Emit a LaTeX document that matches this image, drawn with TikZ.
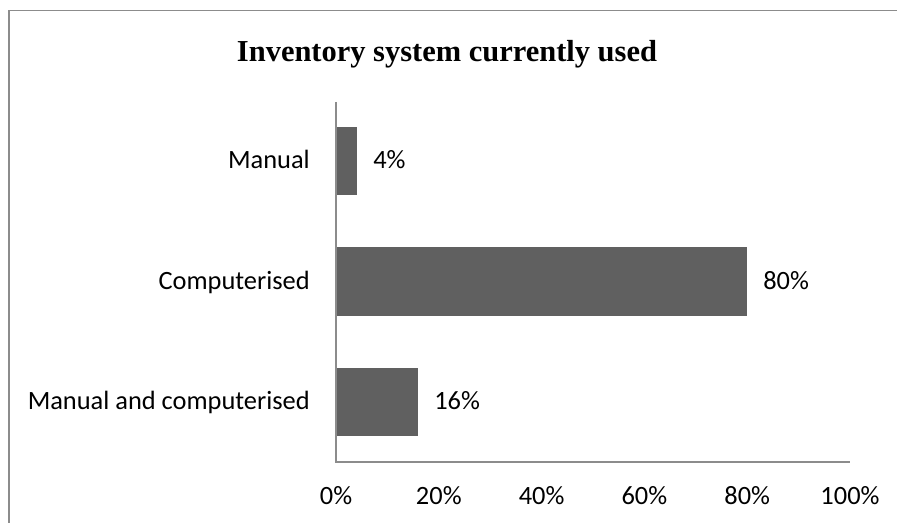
\documentclass[tikz,border=0pt]{standalone}
\usepackage{fontspec}
\setmainfont{Liberation Serif}
\newfontfamily\calfont{Carlito}
\definecolor{barc}{HTML}{606060}
\definecolor{axc}{HTML}{8C8C8C}
\begin{document}
\begin{tikzpicture}[x=0.75pt,y=-0.75pt,
  lbl/.style={font=\calfont\fontsize{19.8}{23}\selectfont, inner sep=0pt},
  bar/.style={fill=barc, draw=none}]
\useasboundingbox (0,0) rectangle (897,523);
\fill[white] (0,0) rectangle (897,523);
% frame
\draw[axc, line width=1.3pt] (9,523) -- (9,10.5) -- (897,10.5);
% title
\node[font=\bfseries\fontsize{22.85}{27}\selectfont, anchor=base, inner sep=0pt] (title) at (447,61.5) {Inventory system currently used};
% bars
\fill[bar] (336,127) rectangle (357,195);
\fill[bar] (336,247) rectangle (747,316);
\fill[bar] (336,368) rectangle (418,436);
% axes
\coordinate (o) at (336,462);
\coordinate (ytop) at (336,102);
\coordinate (xend) at (850,462);
\draw[axc, line width=1pt] (ytop) -- (o) -- (xend);
% category labels
\node[lbl, anchor=base east] (c1) at (310,169) {Manual};
\node[lbl, anchor=base east] (c2) at (310,289.5) {Computerised};
\node[lbl, anchor=base east] (c3) at (310,409.5) {Manual and computerised};
% data labels
\node[lbl, anchor=base west] (d1) at (373,169) {4\%};
\node[lbl, anchor=base west] (d2) at (763,289.5) {80\%};
\node[lbl, anchor=base west] (d3) at (434,409.5) {16\%};
% x tick labels
\foreach \v [count=\i from 0] in {0,20,40,60,80,100} {
  \node[lbl, anchor=base] (t\i) at ({336+5.14*\v},505) {\v\%};
}
\end{tikzpicture}
\end{document}
